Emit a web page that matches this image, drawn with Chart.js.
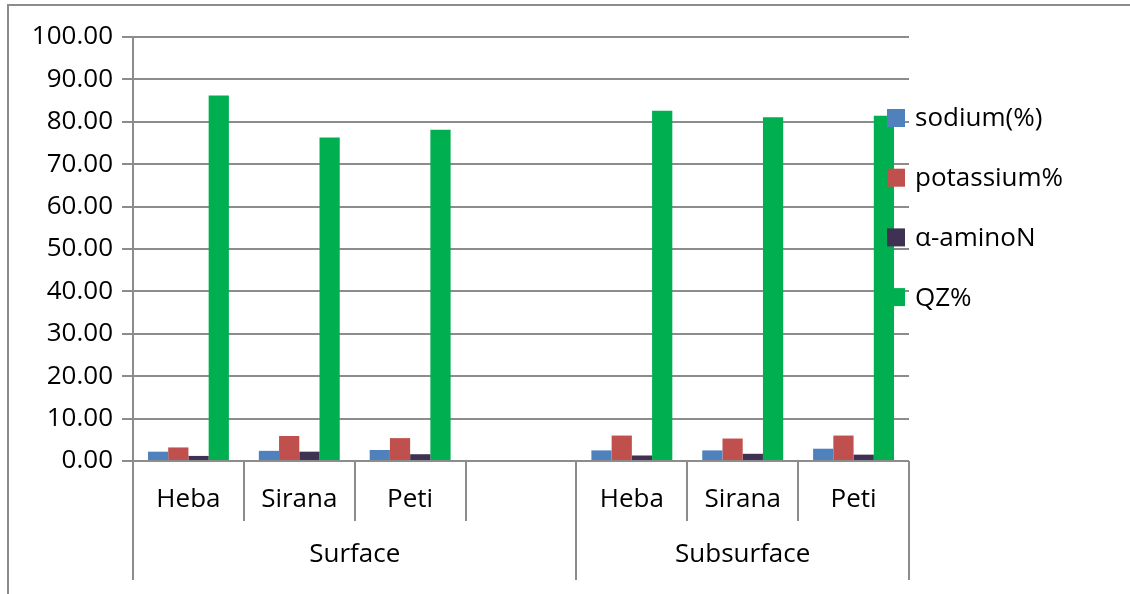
<!DOCTYPE html>
<html>
<head>
<meta charset="utf-8">
<script src="https://cdn.jsdelivr.net/npm/chart.js@4.4.1/dist/chart.umd.min.js"></script>
<style>
  html, body { margin: 0; padding: 0; background: #fff; }
  #wrap { width: 1130px; height: 594px; position: relative; }
</style>
</head>
<body>
<div id="wrap"><canvas id="chart"></canvas></div>
<script>
// Categories (empty slot separates the two groups)
const categories = ['Heba', 'Sirana', 'Peti', '', 'Heba', 'Sirana', 'Peti'];
const groups = [
    { label: 'Surface', from: 0, to: 3 },
    { label: 'Subsurface', from: 4, to: 6 }
];

const sodium    = [2.2, 2.4, 2.6, null, 2.5, 2.5, 2.9];
const potassium = [3.2, 5.9, 5.4, null, 6.0, 5.3, 6.0];
const aminoN    = [1.2, 2.2, 1.6, null, 1.3, 1.7, 1.5];
const qz        = [86.2, 76.3, 78.1, null, 82.6, 81.1, 81.4];

const yTicks = { min: 0, max: 100, step: 10 };

const FONT = "'Open Sans', 'Noto Sans', sans-serif";
const GRID = '#8c8c8c';

// Two-level category axis, frame and legend drawn on top
const excelAxis = {
    id: 'excelAxis',
    afterDraw(chart) {
        const ctx = chart.ctx;
        const x = chart.scales.x;
        const area = chart.chartArea;
        const half = (x.getPixelForValue(1) - x.getPixelForValue(0)) / 2;
        const base = area.bottom;
        ctx.save();
        ctx.strokeStyle = GRID;
        ctx.lineWidth = 2;

        // short dividers between categories
        for (let i = 0; i <= categories.length; i++) {
            const px = Math.round(x.getPixelForValue(i) - half);
            ctx.beginPath();
            ctx.moveTo(px, base);
            ctx.lineTo(px, base + 60);
            ctx.stroke();
        }
        // long dividers between groups
        [0, 4, categories.length].forEach(i => {
            const px = Math.round(x.getPixelForValue(i) - half);
            ctx.beginPath();
            ctx.moveTo(px, base);
            ctx.lineTo(px, base + 119);
            ctx.stroke();
        });

        ctx.fillStyle = '#000';
        ctx.font = '26px ' + FONT;
        ctx.textAlign = 'center';
        ctx.textBaseline = 'middle';
        categories.forEach((c, i) => {
            if (c) ctx.fillText(c, x.getPixelForValue(i), base + 39);
        });
        groups.forEach(g => {
            const a = x.getPixelForValue(g.from) - half;
            const end = g.to === categories.length - 1
                ? x.getPixelForValue(g.to) + half
                : x.getPixelForValue(4) - half;
            ctx.fillText(g.label, (a + end) / 2, base + 94);
        });

        // legend
        ctx.textAlign = 'left';
        ctx.font = '26px ' + FONT;
        chart.data.datasets.forEach((ds, i) => {
            const cy = 118 + i * 59.7;
            ctx.fillStyle = ds.backgroundColor;
            ctx.fillRect(887, cy - 9, 18, 18);
            ctx.fillStyle = '#000';
            ctx.fillText(ds.label, 915, cy + 1);
        });

        // outer frame (left and top)
        ctx.strokeStyle = GRID;
        ctx.lineWidth = 2;
        ctx.beginPath();
        ctx.moveTo(8, 594);
        ctx.lineTo(8, 5);
        ctx.lineTo(1130, 5);
        ctx.stroke();
        ctx.restore();
    }
};

new Chart(document.getElementById('chart'), {
    type: 'bar',
    data: {
        labels: categories,
        datasets: [
            { label: 'sodium(%)', data: sodium, backgroundColor: '#4f81bd' },
            { label: 'potassium%', data: potassium, backgroundColor: '#c0504d' },
            { label: '\u03b1-aminoN', data: aminoN, backgroundColor: '#3f3151' },
            { label: 'QZ%', data: qz, backgroundColor: '#00b050' }
        ]
    },
    options: {
        responsive: true,
        maintainAspectRatio: false,
        animation: false,
        layout: { padding: { left: 10, right: 221, top: 37, bottom: 13 } },
        datasets: { bar: { categoryPercentage: 0.73, barPercentage: 1.0, borderWidth: 0 } },
        plugins: {
            legend: { display: false },
            tooltip: { enabled: false }
        },
        scales: {
            x: {
                ticks: { display: false },
                grid: { display: false },
                border: { display: false },
                afterFit(scale) { scale.height = 120; }
            },
            y: {
                min: yTicks.min,
                max: yTicks.max,
                ticks: {
                    stepSize: yTicks.step,
                    color: '#000',
                    font: { family: FONT, size: 26 },
                    padding: 9,
                    callback: v => Number(v).toFixed(2)
                },
                grid: { color: GRID, lineWidth: 2, tickLength: 11 },
                border: { color: GRID, width: 2 },
                afterFit(scale) { scale.width = 123; }
            }
        }
    },
    plugins: [excelAxis]
});
</script>
</body>
</html>
